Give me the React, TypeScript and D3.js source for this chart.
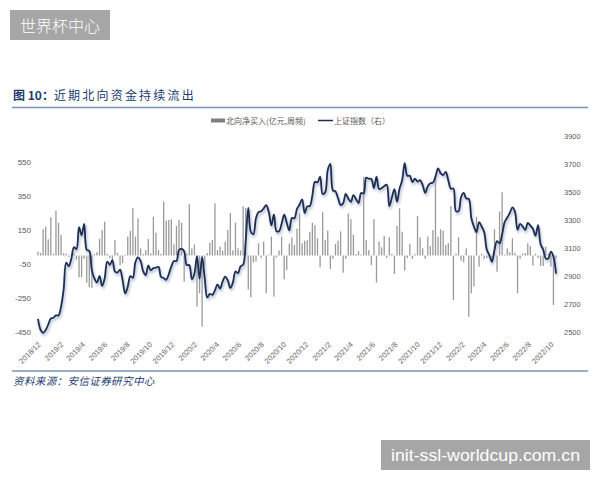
import React, { useRef, useEffect } from "react";
import * as d3 from "d3";

// weekly data, first week ending 2018-12-14
const firstWeek = "2018-12-14";

// 北向净买入 (亿元, 周频) - left axis
const northFlow = [
  22, 15, 156, 170, 95, 225, 10, 264, 193, 121, 14, 10,
  -8, 6, 12, -25, -128, -128, -20, -160, -187, -190,
  8, 20, 98, 150, 199, 10, -15, -30, 91, 16, -58, -45, 5,
  111, 144, 278, 111, 219,
  42, 8, 32, 97, 12,
  228, 134, 32, 10, 317,
  205, 209, 213, 66, 174, 209, 193,
  -154, 10, 302, 42, 65,
  -301, -222, -419, -60,
  15, 75, 91, 307, 32, 52,
  28, 81, 150, 250, 30, 193, 42, 30, 290, 280,
  -200, -245, -40, -35, 72, -15, 81, -222, 5, 111, -242, -12,
  30, 111, -140, -85, 70, 107, 62, 158, 248,
  72, 87, 90, 140, 193, 179, 101, -69, 254, 91, 146, -79, -20,
  68, 87, 142, -101, -20,
  248, 213, 121, 8, 26, 5, 463, 91, 32, -56,
  213, -160, 81, 48, 115, -15, 107, 10,
  -109, 174, 278, 140, -89, -15, 68, -20, 8, 232, 107, 42, -20, 111, 56, 150, 463,
  111, 154, 146, 62, 72, 291, -262, 10, 107, -30, -40, 42, -360, -222, -183, 228,
  -66, 10, -20, -15, -10, -45, 154, -95, 258, 372, 5, 42, 20, 101, 15, -222, -20,
  10, 15, 72, 56, -60, 10, -15, -62, -62, 52, 10, -66, -291, -20,
];

// 上证指数 (右) - right axis
const sseIndex = [
  2594, 2516, 2494,
  2514, 2554, 2596, 2601, 2618, 2618, 2682, 2804, 2994, 2969, 3022, 3104, 3091,
  3247, 3189, 3271, 3086, 3078, 2939, 2882, 2853, 2899, 2828, 2882, 3001, 2979,
  3012, 2931, 2924, 2945, 2868, 2775, 2823, 2898, 2886, 2999, 3031, 3007, 2933,
  2905, 2974, 2939, 2955, 2958, 2964, 2892, 2885, 2872, 2912, 2968, 3005, 3006,
  3084, 3092, 3075, 2977, 2977, 2876, 2917, 3040, 2880, 3034, 2887, 2746, 2772,
  2764, 2797, 2839, 2809, 2860, 2895, 2868, 2814, 2852, 2931, 2920, 2968, 2980,
  3152, 3384, 3214, 3197, 3310, 3354, 3360, 3381, 3404, 3355, 3260, 3338, 3219,
  3218, 3272, 3336, 3278, 3225, 3312, 3311, 3378, 3408, 3445, 3347, 3395, 3397,
  3473, 3570, 3566, 3607, 3483, 3496, 3655, 3697, 3509, 3502, 3454, 3405, 3418,
  3484, 3451, 3427, 3475, 3447, 3419, 3490, 3487, 3600, 3592, 3590, 3525, 3607,
  3519, 3525, 3539, 3550, 3397, 3458, 3517, 3427, 3522, 3581, 3703, 3613, 3613,
  3568, 3592, 3572, 3582, 3547, 3491, 3539, 3560, 3564, 3607, 3666, 3632, 3618, 3640,
  3580, 3521, 3523, 3361, 3361, 3462, 3491, 3451, 3448, 3310, 3251, 3212,
  3282, 3252, 3211, 3087, 3047, 3001, 3084, 3147, 3131, 3196, 3285, 3316, 3349,
  3388, 3356, 3228, 3270, 3253, 3227, 3277, 3258, 3236,
  3186, 3262, 3126, 3088, 3024, 3024, 3072, 3038, 2916,
];

const monthLabels = [
  "2018/12", "2019/2", "2019/4", "2019/6", "2019/8", "2019/10", "2019/12",
  "2020/2", "2020/4", "2020/6", "2020/8", "2020/10", "2020/12",
  "2021/2", "2021/4", "2021/6", "2021/8", "2021/10", "2021/12",
  "2022/2", "2022/4", "2022/6", "2022/8", "2022/10",
];
const leftTicks = [550, 350, 150, -50, -250, -450];
const rightTicks = [3900, 3700, 3500, 3300, 3100, 2900, 2700, 2500];

const cjk = "'Noto Sans CJK SC', 'Liberation Sans', sans-serif";

function App() {
  const canvas = useRef<SVGSVGElement>(null);

  function drawChart() {
    const svg = d3.select(canvas.current);
    svg.selectAll("*").remove();

    const start = d3.timeParse("%Y-%m-%d")(firstWeek) as Date;
    const n = Math.min(northFlow.length, sseIndex.length);
    const weeks = d3.range(n).map((i) => d3.timeWeek.offset(start, i));

    const x = d3.scaleTime().domain([weeks[0], weeks[n - 1]]).range([38, 556]);
    const yL = d3.scaleLinear().domain([-450, 550]).range([332, 162]);
    const yR = d3.scaleLinear().domain([2500, 3900]).range([332, 135.5]);

    svg.append("rect").attr("width", 600).attr("height", 480).attr("fill", "#fff");

    // watermark boxes
    svg.append("rect").attr("x", 10).attr("y", 10).attr("width", 100).attr("height", 30).attr("fill", "#a6a6a6");
    svg.append("text").attr("x", 20).attr("y", 31.5).attr("fill", "#fff")
      .style("font-family", cjk).style("font-size", "16px").style("font-weight", 300).text("世界杯中心");
    svg.append("rect").attr("x", 381).attr("y", 440).attr("width", 209).attr("height", 30).attr("fill", "#a6a6a6");
    svg.append("text").attr("x", 391).attr("y", 461).attr("fill", "#fff")
      .attr("textLength", 189).attr("lengthAdjust", "spacingAndGlyphs")
      .style("font-family", "'Liberation Sans', sans-serif").style("font-size", "16px")
      .text("init-ssl-worldcup.com.cn");

    // title
    const title = svg.append("text").attr("x", 13).attr("y", 100).attr("fill", "#213b70")
      .style("font-family", cjk).style("font-size", "12px");
    title.append("tspan").style("font-weight", "bold").text("图 10：");
    title.append("tspan").attr("letter-spacing", 2.2).text("近期北向资金持续流出");
    svg.append("line").attr("x1", 12).attr("x2", 588).attr("y1", 107.5).attr("y2", 107.5)
      .attr("stroke", "#7d93b4").attr("stroke-width", 1.5);

    // legend
    svg.append("rect").attr("x", 211).attr("y", 118.5).attr("width", 14).attr("height", 4).attr("fill", "#7f7f7f");
    svg.append("text").attr("x", 226).attr("y", 123.5).attr("fill", "#595959")
      .style("font-family", cjk).style("font-size", "8px").text("北向净买入(亿元,周频)");
    svg.append("line").attr("x1", 318).attr("x2", 333).attr("y1", 120.5).attr("y2", 120.5)
      .attr("stroke", "#1f2d50").attr("stroke-width", 1.5);
    svg.append("text").attr("x", 334).attr("y", 123.5).attr("fill", "#595959")
      .style("font-family", cjk).style("font-size", "8px").text("上证指数（右）");

    // axis labels
    svg.append("g").selectAll("text").data(leftTicks).enter().append("text")
      .attr("x", 31).attr("y", (d) => yL(d) + 3)
      .attr("text-anchor", "end").attr("fill", "#595959")
      .style("font-family", "'Liberation Sans', sans-serif").style("font-size", "8px")
      .text((d) => d);
    svg.append("g").selectAll("text").data(rightTicks).enter().append("text")
      .attr("x", 564).attr("y", (d) => yR(d) + 3)
      .attr("fill", "#595959")
      .style("font-family", "'Liberation Sans', sans-serif").style("font-size", "7.5px")
      .text((d) => d);

    const parseMonth = d3.timeParse("%Y/%m");
    svg.append("g").selectAll("text").data(monthLabels).enter().append("text")
      .attr("transform", (d) => `translate(${x(parseMonth(d) as Date) + 8},345) rotate(-45)`)
      .attr("text-anchor", "end").attr("fill", "#666")
      .style("font-family", "'Liberation Sans', sans-serif").style("font-size", "7.5px")
      .text((d) => d);

    // bars
    svg.append("g").selectAll("rect").data(northFlow.slice(0, n)).enter().append("rect")
      .attr("x", (d, i) => x(weeks[i]) - 0.65)
      .attr("width", 1.3)
      .attr("y", (d) => yL(Math.max(0, d)))
      .attr("height", (d) => Math.abs(yL(d) - yL(0)))
      .attr("fill", "#9a9a9a");

    // index line with soft shadow
    const defs = svg.append("defs");
    const f = defs.append("filter").attr("id", "blur").attr("x", "-5%").attr("y", "-5%").attr("width", "110%").attr("height", "110%");
    f.append("feGaussianBlur").attr("stdDeviation", 1.2);

    const line = d3.line<number>()
      .x((d, i) => x(weeks[i]))
      .y((d) => yR(d))
      .curve(d3.curveCatmullRom.alpha(0.5));
    const pts = sseIndex.slice(0, n);
    svg.append("path").attr("d", line(pts)).attr("fill", "none")
      .attr("stroke", "#9fb0cc").attr("stroke-width", 3).attr("opacity", 0.6)
      .attr("transform", "translate(1,2)").attr("filter", "url(#blur)");
    svg.append("path").attr("d", line(pts)).attr("fill", "none")
      .attr("stroke", "#1f2d50").attr("stroke-width", 1.8);

    // source
    svg.append("line").attr("x1", 12).attr("x2", 588).attr("y1", 371).attr("y2", 371)
      .attr("stroke", "#7d93b4").attr("stroke-width", 1.5);
    svg.append("text").attr("x", 13).attr("y", 384.5).attr("fill", "#213b70")
      .style("font-family", cjk).style("font-size", "10.5px").style("font-style", "italic")
      .attr("letter-spacing", 0.4)
      .text("资料来源：安信证券研究中心");
  }

  useEffect(() => {
    drawChart();
  }, []);

  return (
    <svg
      ref={canvas}
      width={600}
      height={480}
      style={{ position: "absolute", left: 0, top: 0 }}
    ></svg>
  );
}

export default App;
